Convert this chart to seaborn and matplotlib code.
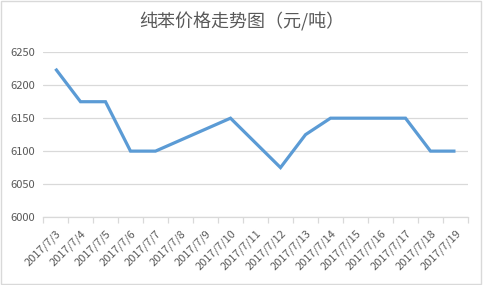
import numpy as np
import pandas as pd
import matplotlib
matplotlib.use("Agg")
import matplotlib.pyplot as plt
import seaborn as sns
from matplotlib.patches import Rectangle

title = "纯苯价格走势图（元/吨）"
dates = ["2017/7/3", "2017/7/4", "2017/7/5", "2017/7/6", "2017/7/7", "2017/7/8",
         "2017/7/9", "2017/7/10", "2017/7/11", "2017/7/12", "2017/7/13", "2017/7/14",
         "2017/7/15", "2017/7/16", "2017/7/17", "2017/7/18", "2017/7/19"]
# weekends / missing days have no value; line is drawn between reported days
prices = [6225, 6175, 6175, 6100, 6100, np.nan, np.nan, 6150, np.nan, 6075, 6125, 6150,
          np.nan, np.nan, 6150, 6100, 6100]
y_ticks = [6000, 6050, 6100, 6150, 6200, 6250]

sns.set_theme(style="white")
plt.rcParams['font.family'] = ['Noto Sans CJK SC', 'DejaVu Sans']

df = pd.DataFrame({"date": dates, "price": prices})
df["pos"] = np.arange(len(df))
valid = df.dropna()

fig = plt.figure(figsize=(4.83, 2.85), dpi=100)
ax = fig.add_axes([43/483, 1-217/285, (468-43)/483, (217-52.3)/285])

sns.lineplot(data=valid, x="pos", y="price", ax=ax, color="#5B9BD5",
             linewidth=2.3, solid_capstyle="butt", solid_joinstyle="miter", estimator=None, sort=False)

ax.set_xlim(-0.5, len(dates) - 0.5)
ax.set_ylim(y_ticks[0], y_ticks[-1])
ax.set_yticks(y_ticks)
ax.set_yticklabels([str(v) for v in y_ticks], fontsize=8, color="#595959")
ax.yaxis.grid(True, color="#D9D9D9", linewidth=0.9)
ax.set_axisbelow(True)

ax.set_xticks(df["pos"])
ax.set_xticklabels(dates, rotation=45, ha="right", rotation_mode="anchor",
                   fontsize=8, color="#595959")
ax.set_xticks(np.arange(-0.5, len(dates)), minor=True)
ax.tick_params(axis="x", which="major", length=0, pad=8)
ax.tick_params(axis="x", which="minor", length=4, width=0.9, color="#D9D9D9", bottom=True)
ax.tick_params(axis="y", length=0, pad=6)

for s in ["top", "right", "left"]:
    ax.spines[s].set_visible(False)
ax.spines["bottom"].set_color("#D9D9D9")
ax.spines["bottom"].set_linewidth(0.9)

ax.set_xlabel("")
ax.set_ylabel("")
fig.text(0.5, 1-22/285, title, ha="center", va="center", fontsize=13, color="#595959")

fig.patches.append(Rectangle((0.002, 0.004), 0.994, 0.992, transform=fig.transFigure,
                             fill=False, edgecolor="#D9D9D9", linewidth=1))

fig.savefig("out.png", dpi=100, facecolor="white")
